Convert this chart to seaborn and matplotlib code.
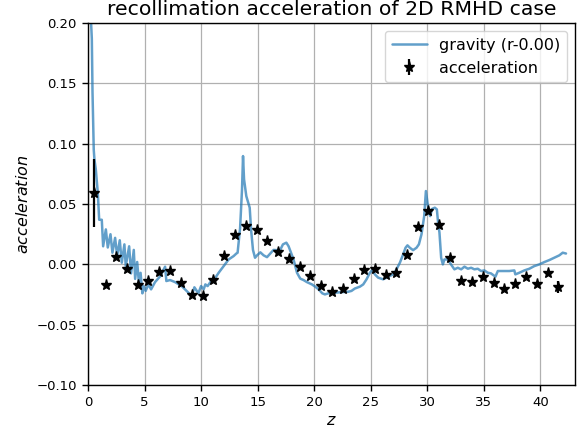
import numpy as np
import pandas as pd
import matplotlib
matplotlib.use("Agg")
import matplotlib.pyplot as plt
import seaborn as sns

# gravity profile along the jet axis
grav_z = [0.2, 0.28, 0.34, 0.4, 0.51, 0.57, 0.69, 0.87, 0.99, 1.22,
          1.34, 1.58, 1.75, 1.99, 2.16, 2.4, 2.58, 2.81, 2.99, 3.22,
          3.34, 3.64, 3.81, 4.05, 4.17, 4.35, 4.5, 4.65, 4.81, 4.93,
          5.1, 5.34, 5.58, 5.93, 6.37, 6.82, 6.93, 7.26, 7.7, 8.29,
          8.88, 9.17, 9.41, 9.76, 10.0, 10.23, 10.38, 10.58, 10.82, 11.2,
          11.56, 12.0, 12.44, 12.88, 13.12, 13.23, 13.45, 13.62, 13.71, 13.8,
          14.0, 14.3, 14.42, 14.59, 14.77, 14.95, 15.24, 15.53, 15.83, 16.12,
          16.41, 16.71, 17.0, 17.24, 17.54, 17.74, 17.95, 18.18, 18.48, 18.77,
          19.06, 19.36, 19.8, 20.1, 20.39, 20.72, 20.95, 21.25, 21.84, 22.42,
          23.0, 23.3, 23.6, 24.04, 24.34, 24.63, 24.93, 25.13, 25.37, 25.66,
          26.1, 26.55, 26.99, 27.28, 27.58, 27.87, 28.08, 28.25, 28.46, 28.75,
          29.05, 29.26, 29.49, 29.73, 29.88, 30.02, 30.14, 30.26, 30.43, 30.67,
          30.85, 30.96, 31.08, 31.23, 31.38, 31.52, 31.82, 32.1, 32.4, 32.7,
          33.0, 33.29, 33.59, 33.88, 34.17, 34.47, 34.76, 35.05, 35.35, 35.64,
          36.03, 36.24, 36.68, 37.26, 37.7, 37.79, 38.15, 38.59, 39.03, 39.47,
          39.91, 40.35, 40.8, 41.24, 41.68, 41.98, 42.27]
grav_a = [0.215, 0.2, 0.187, 0.143, 0.095, 0.087, 0.079, 0.059, 0.037, 0.037,
          0.015, 0.029, 0.014, 0.025, 0.0097, 0.022, 0.007, 0.020, 0.0014, 0.0166,
          -0.0014, 0.015, -0.0075, 0.012, -0.012, 0.002, -0.015, -0.007, -0.024, -0.018,
          -0.022, -0.0166, -0.0207, -0.0147, -0.010, -0.0019, -0.0138, -0.013, -0.0147, -0.018,
          -0.0235, -0.026, -0.019, -0.024, -0.018, -0.0207, -0.0166, -0.018, -0.0147, -0.012,
          -0.0069, -0.0014, 0.0041, 0.0069, 0.009, 0.0097, 0.03, 0.062, 0.0898, 0.0705,
          0.0566, 0.047, 0.029, 0.012, 0.0055, 0.0075, 0.010, 0.0075, 0.006, 0.009,
          0.012, 0.0118, 0.012, 0.0166, 0.018, 0.015, 0.0097, 0.004, -0.0069, -0.0118,
          -0.013, -0.0147, -0.0166, -0.0185, -0.0207, -0.024, -0.0249, -0.024, -0.0235, -0.023,
          -0.0227, -0.022, -0.020, -0.0185, -0.0166, -0.0124, -0.0069, -0.0047, -0.0083, -0.011,
          -0.0124, -0.0102, -0.0083, -0.0041, 0.0014, 0.0083, 0.0138, 0.0158, 0.0138, 0.0118,
          0.0138, 0.0166, 0.0249, 0.040, 0.0608, 0.051, 0.043, 0.040, 0.046, 0.047,
          0.0456, 0.0346, 0.0263, 0.0055, 0.0, 0.0041, 0.0041, 0.0, -0.0041, -0.0028,
          -0.0041, -0.0019, -0.0036, -0.0028, -0.0041, -0.0036, -0.0055, -0.005, -0.0069, -0.0075,
          -0.0102, -0.0055, -0.0055, -0.0055, -0.005, -0.0083, -0.0069, -0.005, -0.0036, -0.0014,
          0.0, 0.0019, 0.0036, 0.0055, 0.0075, 0.0097, 0.009]

# measured acceleration with uncertainties
acc_z = [0.57, 1.55, 2.52, 3.49, 4.43, 5.34, 6.31, 7.26, 8.23, 9.2,
         10.14, 11.06, 12.06, 13.0, 13.98, 14.91, 15.86, 16.8, 17.74, 18.71,
         19.66, 20.58, 21.57, 22.51, 23.48, 24.45, 25.4, 26.34, 27.28, 28.22,
         29.17, 30.11, 31.05, 32.05, 33.0, 33.97, 34.94, 35.88, 36.82, 37.77,
         38.71, 39.68, 40.65, 41.59]
acc_a = [0.059, -0.0171, 0.0064, -0.0036, -0.0169, -0.0141, -0.0061, -0.0055, -0.0158, -0.0257,
         -0.0264, -0.0133, 0.0072, 0.024, 0.0315, 0.0285, 0.0196, 0.0105, 0.0041, -0.0019,
         -0.0097, -0.0178, -0.0226, -0.0202, -0.0122, -0.0047, -0.0039, -0.0086, -0.0072, 0.0077,
         0.0312, 0.0445, 0.033, 0.0052, -0.0141, -0.0144, -0.0108, -0.0155, -0.0205, -0.0163,
         -0.0108, -0.0166, -0.0069, -0.0188]
acc_err = [0.028, 0.0, 0.0, 0.0, 0.0, 0.0, 0.0, 0.0, 0.0, 0.0,
           0.0, 0.0, 0.0, 0.0, 0.0, 0.0, 0.0, 0.0, 0.0, 0.0,
           0.0, 0.0, 0.0, 0.0, 0.0, 0.0, 0.0, 0.0, 0.0, 0.0,
           0.0, 0.0, 0.0, 0.0, 0.0, 0.0, 0.0, 0.0, 0.0, 0.0,
           0.0, 0.0, 0.0, 0.0052]

sns.set_style("ticks")
plt.rcParams["font.family"] = ["DejaVu Sans"]
plt.rcParams.update({
    "font.size": 10,
    "text.color": "black",
    "axes.labelcolor": "black",
    "xtick.color": "black",
    "ytick.color": "black",
    "axes.edgecolor": "black",
})

fig = plt.figure(figsize=(5.85, 4.37), dpi=100)
ax = fig.add_axes([0.1504, 0.119, 0.8326, 0.828])

grav = pd.DataFrame({"z": grav_z, "a": grav_a})
sns.lineplot(data=grav, x="z", y="a", ax=ax, sort=False, estimator=None,
             color="#1f77b4", alpha=0.7, lw=1.8, label="gravity (r-0.00)")
ax.errorbar(acc_z, acc_a, yerr=acc_err, fmt="*", color="black", ms=8,
            elinewidth=1.6, label="acceleration")

ax.set_xlim(0, 43.07)
ax.set_ylim(-0.1, 0.2)
ax.set_xticks([0, 5, 10, 15, 20, 25, 30, 35, 40])
ax.grid(True, color="#b0b0b0", lw=0.9)
for s in ax.spines.values():
    s.set_linewidth(1.0)
ax.tick_params(labelsize=9.5, length=4.5, width=1.0)
ax.set_xlabel("$z$", fontsize=11.5, labelpad=3)
ax.set_ylabel("$acceleration$", fontsize=11.5)
ax.set_title("recollimation acceleration of 2D RMHD case", fontsize=14.7)
ax.legend(loc="upper right", fancybox=True, framealpha=0.8, fontsize=11.5,
          handlelength=2.2)

fig.savefig("out.png", dpi=100)
